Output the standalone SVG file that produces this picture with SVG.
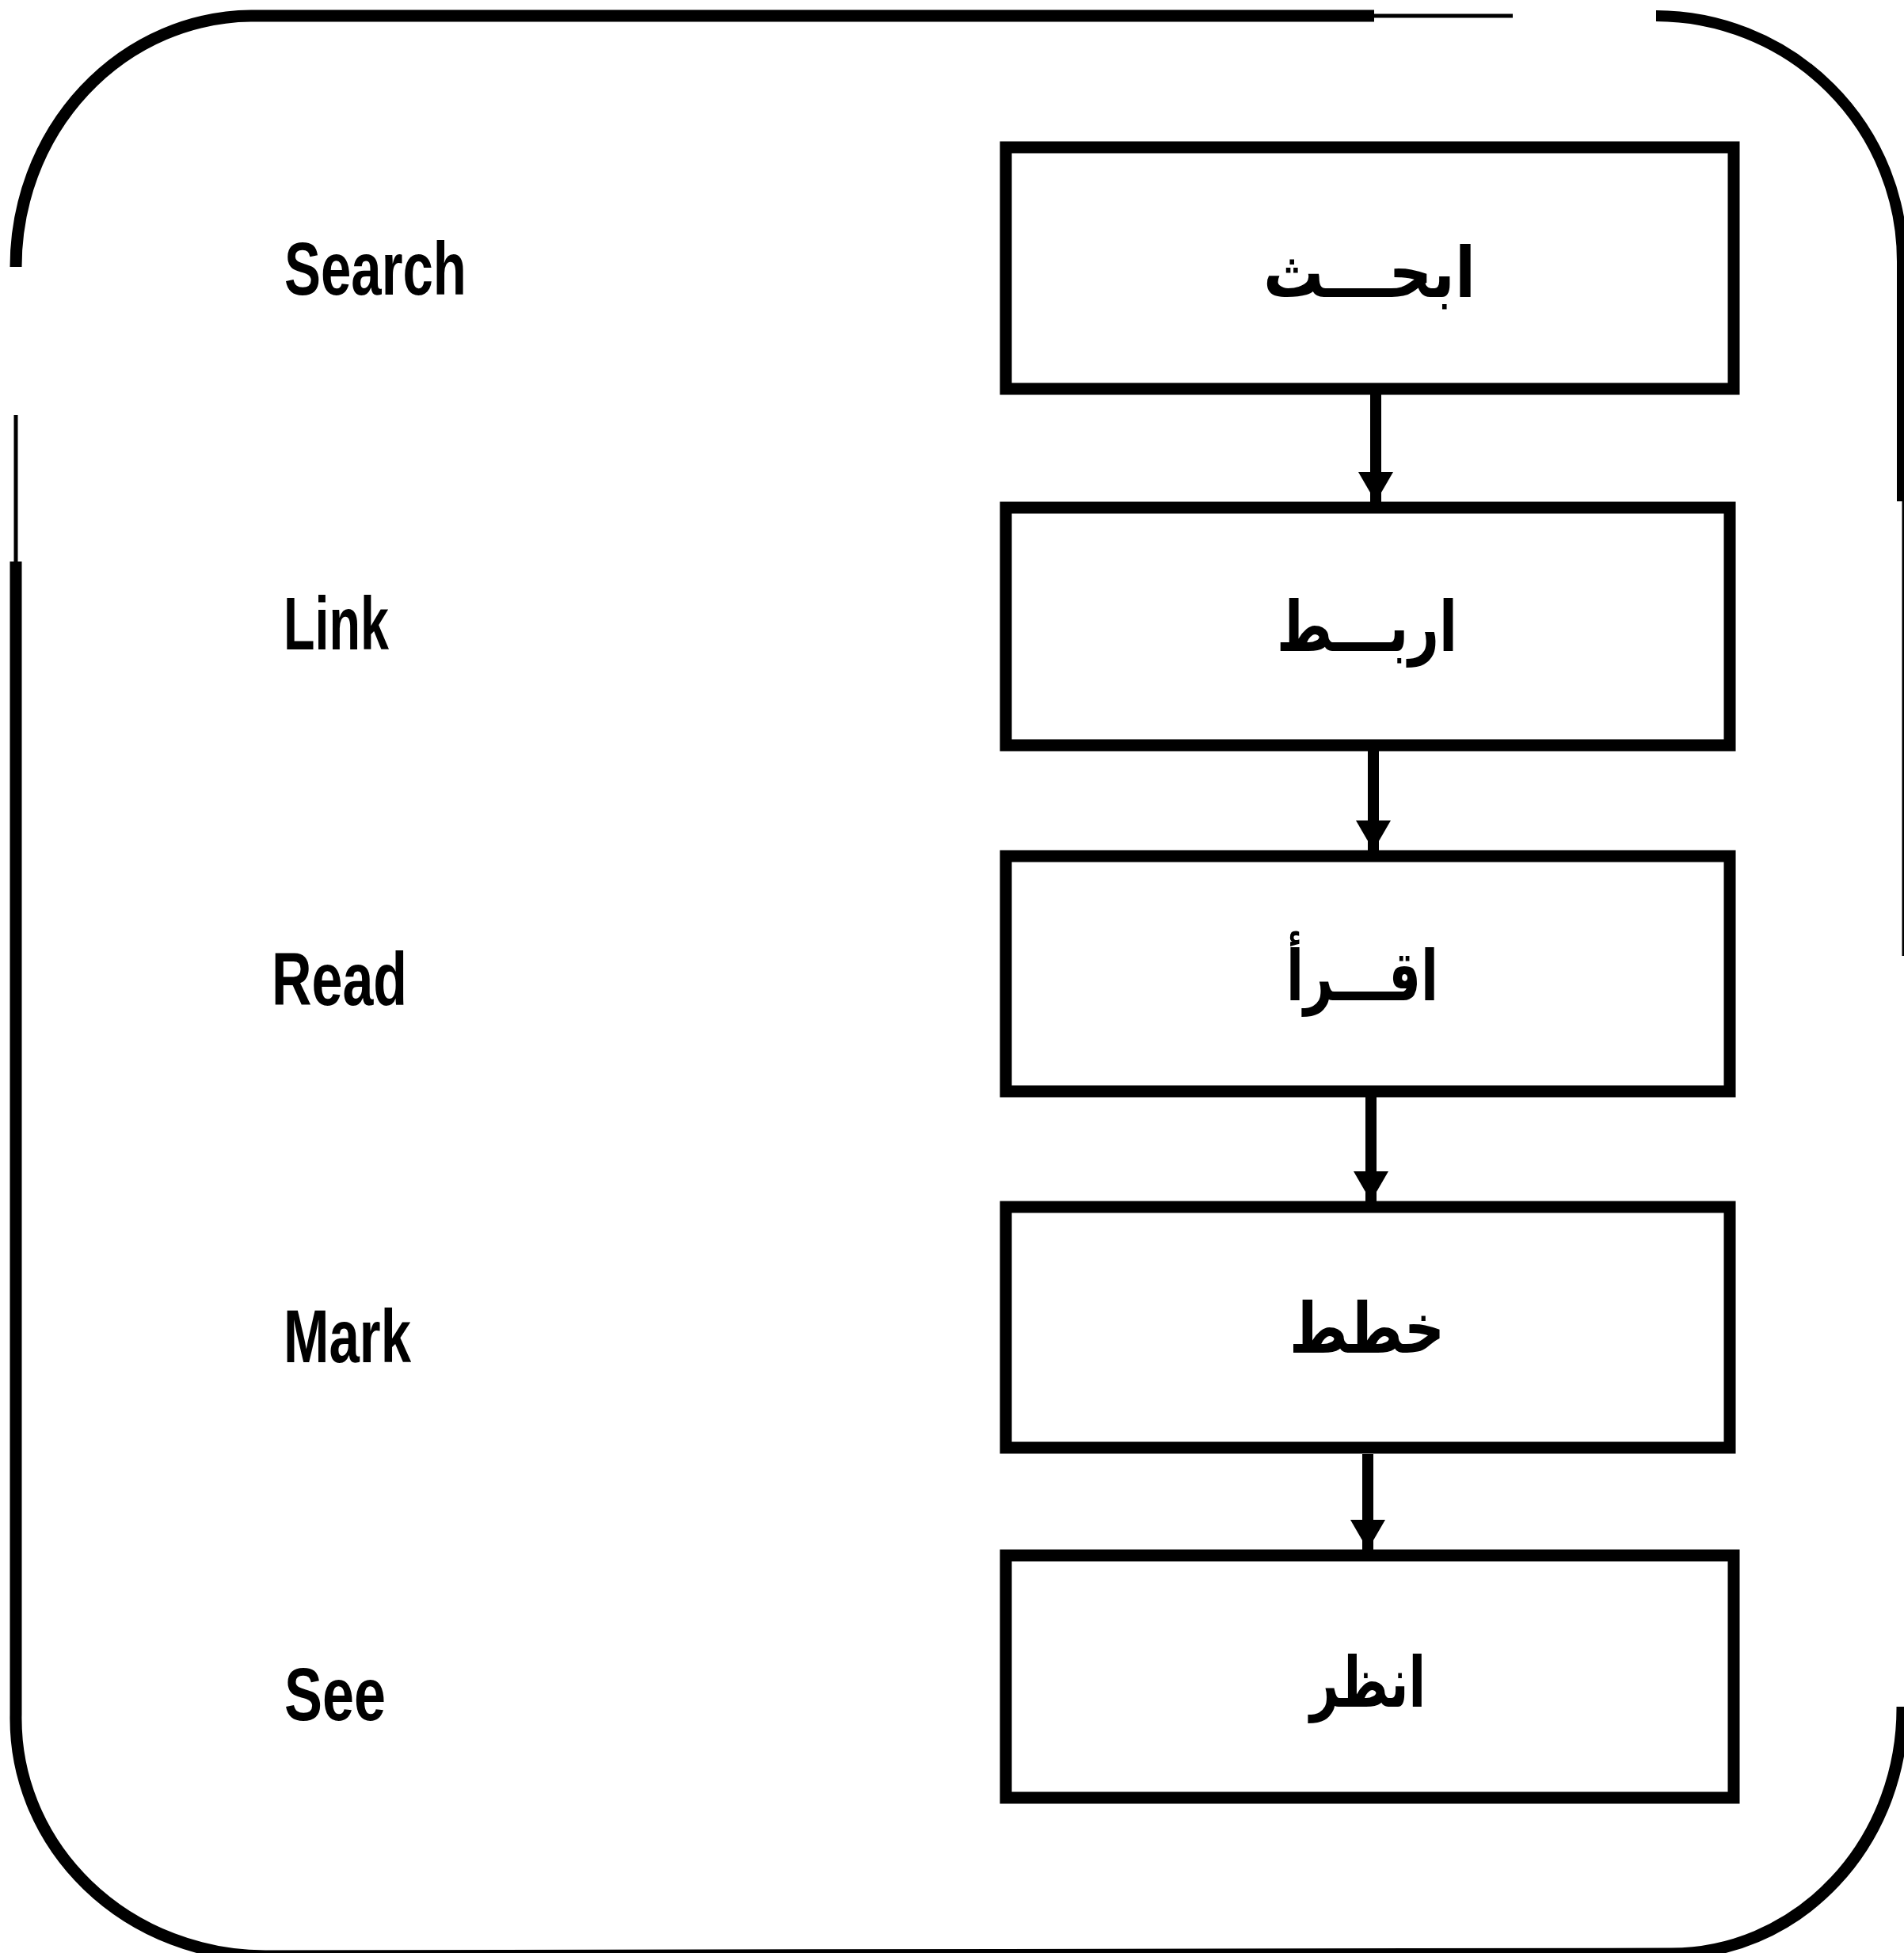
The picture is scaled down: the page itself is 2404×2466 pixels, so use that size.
<svg xmlns="http://www.w3.org/2000/svg" width="2404" height="2466" viewBox="0 0 2404 2466">
<style>
.frame{fill:none;stroke:#000;stroke-linecap:butt}
.box{fill:#fff;stroke:#000;stroke-width:15}
.en{font-family:"Liberation Sans",Arial,sans-serif;font-weight:bold;font-size:95px;fill:#000}
.ar{font-family:"DejaVu Sans","Noto Sans",sans-serif;font-weight:bold;font-size:88px;fill:#000;text-anchor:middle}
.conn{stroke:#000;stroke-width:14;fill:none}
</style>
<defs>
<marker id="ah" viewBox="0 0 38 44" refX="38" refY="22" markerWidth="38" markerHeight="44" orient="auto" markerUnits="userSpaceOnUse">
<path d="M0,0 L38,22 L0,44 z" fill="#000"/>
</marker>
</defs>
<rect width="2404" height="2466" fill="#fff"/>
<g id="frame">
<path class="frame" stroke-width="15" d="M1735,20 L317,20 A300,317 0 0 0 20,337"/>
<path class="frame" stroke-width="5" d="M1735,20 L1910,20"/>
<path class="frame" stroke-width="14" d="M2091,20 A312,310 0 0 1 2402,330 L2402,633"/>
<path class="frame" stroke-width="3" d="M2403,633 L2403,1207"/>
<path class="frame" stroke-width="5" d="M20,524 L20,709"/>
<path class="frame" stroke-width="15" d="M20,709 L20,2165 A316,300 0 0 0 335,2470 L2110,2467 A292,310 0 0 0 2402,2155"/>
</g>
<g id="connectors">
<line class="conn" x1="1737" y1="498" x2="1737" y2="634" marker-end="url(#ah)"/>
<line class="conn" x1="1734" y1="948" x2="1734" y2="1074" marker-end="url(#ah)"/>
<line class="conn" x1="1731" y1="1385" x2="1731" y2="1517" marker-end="url(#ah)"/>
<line class="conn" x1="1727" y1="1836" x2="1727" y2="1957" marker-end="url(#ah)"/>
</g>
<g id="node-search">
<rect class="box" x="1270" y="186" width="919" height="305"/>
<text class="ar" x="1729" y="375" textLength="268" lengthAdjust="spacingAndGlyphs">ابحـــث</text>
</g>
<g id="node-link">
<rect class="box" x="1270" y="641" width="914" height="300"/>
<text class="ar" x="1726" y="822" textLength="228" lengthAdjust="spacingAndGlyphs">اربـــط</text>
</g>
<g id="node-read">
<rect class="box" x="1270" y="1081" width="914" height="297"/>
<text class="ar" x="1720" y="1263" textLength="192" lengthAdjust="spacingAndGlyphs">اقـــرأ</text>
</g>
<g id="node-mark">
<rect class="box" x="1270" y="1524" width="914" height="304"/>
<text class="ar" x="1726" y="1708" textLength="196" lengthAdjust="spacingAndGlyphs">خطط</text>
</g>
<g id="node-see">
<rect class="box" x="1270" y="1964" width="919" height="306"/>
<text class="ar" x="1727" y="2155" textLength="146" lengthAdjust="spacingAndGlyphs">انظر</text>
</g>
<g id="labels">
<text class="en" x="359" y="372" textLength="230" lengthAdjust="spacingAndGlyphs">Search</text>
<text class="en" x="358" y="820" textLength="133" lengthAdjust="spacingAndGlyphs">Link</text>
<text class="en" x="343" y="1269" textLength="171" lengthAdjust="spacingAndGlyphs">Read</text>
<text class="en" x="358" y="1720" textLength="161" lengthAdjust="spacingAndGlyphs">Mark</text>
<text class="en" x="359" y="2172" textLength="128" lengthAdjust="spacingAndGlyphs">See</text>
</g>
</svg>
